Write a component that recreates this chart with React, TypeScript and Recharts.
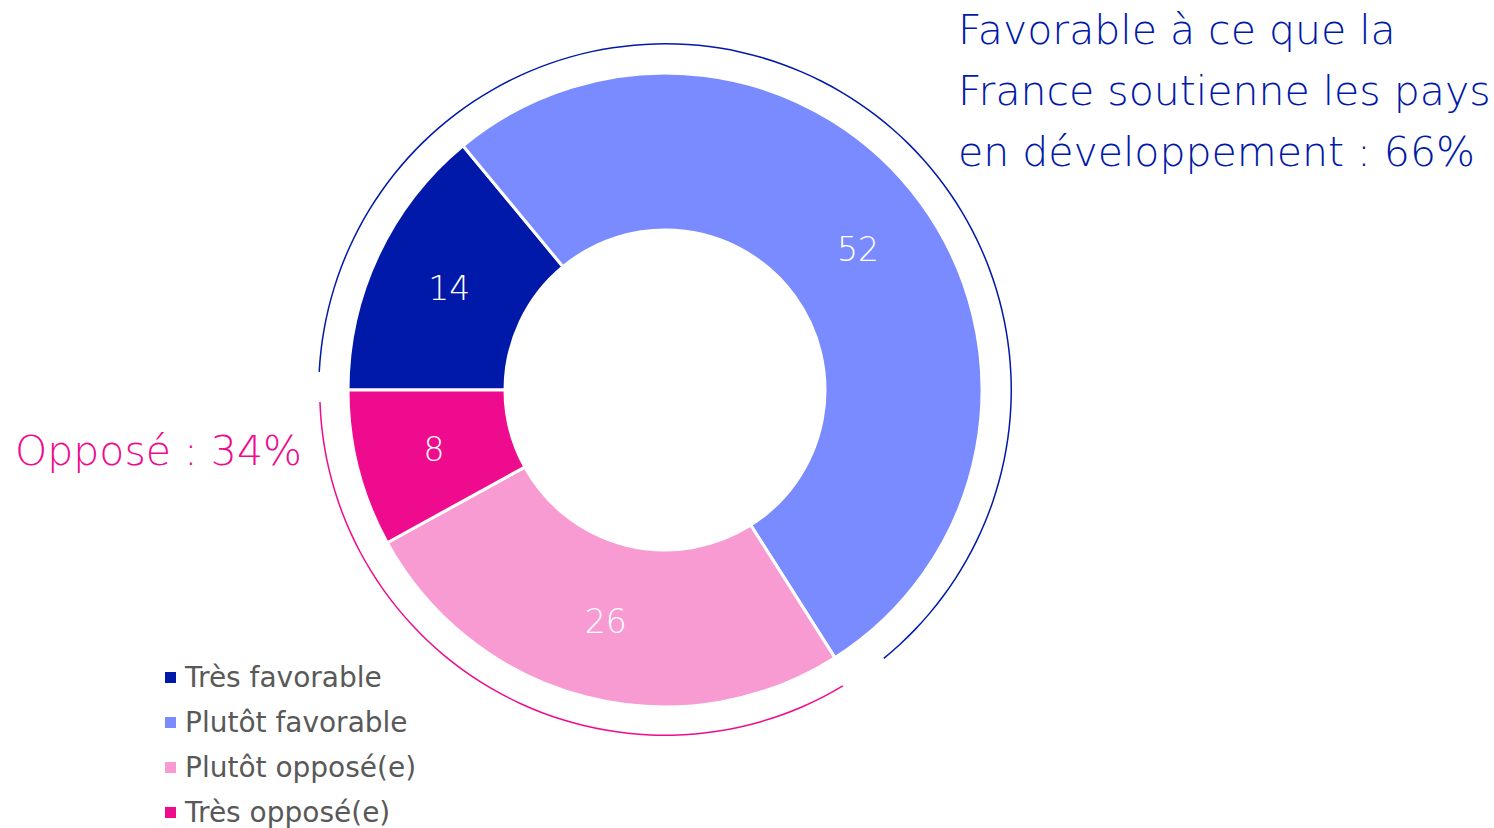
import { PieChart, Pie, Cell } from 'recharts';

const categories = ['Très favorable', 'Plutôt favorable', 'Plutôt opposé(e)', 'Très opposé(e)'];
const values = [14, 52, 26, 8];
const colors = ['#0019A8', '#7A8BFF', '#F99BD3', '#EE0B8D'];

const groupNames = ['Favorable', 'Opposé'];
const groupValues = [66, 34];
const groupColors = ['#0019A8', '#EE0B8D'];

const titleLines = ['Favorable à ce que la', 'France soutienne les pays', 'en développement : 66%'];
const opposeLabel = 'Opposé : 34%';

const FONT = '"DejaVu Sans", sans-serif';
const RAD = Math.PI / 180;

const sliceData = categories.map((name, i) => ({ name, value: values[i] }));
const favData = [{ name: groupNames[0], value: groupValues[0] }];
const oppData = [{ name: groupNames[1], value: groupValues[1] }];

const renderLabel = (props: any) => {
  const { cx, cy, midAngle, innerRadius, outerRadius, value } = props;
  const r = (innerRadius + outerRadius) / 2;
  const x = cx + r * Math.cos(-midAngle * RAD);
  const y = cy + r * Math.sin(-midAngle * RAD);
  return (
    <text x={x} y={y} fill="#fff" textAnchor="middle" dominantBaseline="central"
      fontFamily={FONT} fontSize={33} fontWeight={300}>
      {value}
    </text>
  );
};

export default function App() {
  return (
    <div style={{ position: 'absolute', left: 0, top: 0, width: 1494, height: 828, background: '#fff' }}>
      <PieChart width={1494} height={828} margin={{ top: 0, right: 0, bottom: 0, left: 0 }}>
        <Pie data={favData} dataKey="value" cx={665} cy={390} startAngle={177} endAngle={-50.8}
          innerRadius={345.5} outerRadius={347} stroke="none" isAnimationActive={false} legendType="none">
          <Cell fill={groupColors[0]} />
        </Pie>
        <Pie data={oppData} dataKey="value" cx={665} cy={390} startAngle={182} endAngle={301}
          innerRadius={344.5} outerRadius={346} stroke="none" isAnimationActive={false} legendType="none">
          <Cell fill={groupColors[1]} />
        </Pie>
        <Pie data={sliceData} dataKey="value" cx={665} cy={390} startAngle={180} endAngle={-180}
          innerRadius={160} outerRadius={317} stroke="#fff" strokeWidth={3}
          label={renderLabel} labelLine={false} isAnimationActive={false}>
          {sliceData.map((_d, i) => (
            <Cell key={`cell-${i}`} fill={colors[i]} />
          ))}
        </Pie>
      </PieChart>
      <svg width={1494} height={828} style={{ position: 'absolute', left: 0, top: 0, pointerEvents: 'none' }}>
        {titleLines.map((line, i) => (
          <text key={line} x={958} y={44 + i * 61} fill="#0019A8" fontFamily={FONT} fontSize={41} fontWeight={300}>
            {line}
          </text>
        ))}
        <text x={15} y={465} fill="#EE0B8D" fontFamily={FONT} fontSize={41} fontWeight={300}>
          {opposeLabel}
        </text>
        {categories.map((name, i) => (
          <g key={name}>
            <rect x={165} y={672 + i * 45} width={11} height={11} fill={colors[i]} />
            <text x={185} y={687 + i * 45} fill="#595959" fontFamily={FONT} fontSize={28}>
              {name}
            </text>
          </g>
        ))}
      </svg>
    </div>
  );
}
